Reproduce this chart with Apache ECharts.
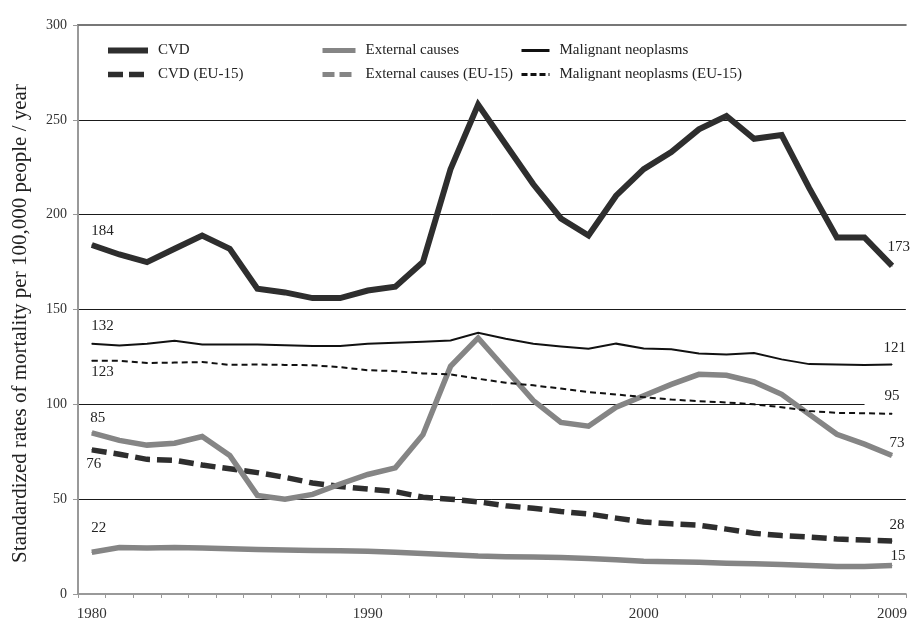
<!DOCTYPE html>
<html>
<head>
<meta charset="utf-8">
<script src="https://cdn.jsdelivr.net/npm/echarts@6/dist/echarts.min.js"></script>
<style>
  html, body { margin: 0; padding: 0; background: #fff; }
  #chart { width: 910px; height: 622px; }
</style>
</head>
<body>
<div id="chart"></div>
<script>
// Standardized mortality rates, 1980-2009 (per 100,000 people / year)
const years = ['1980','1981','1982','1983','1984','1985','1986','1987','1988','1989',
               '1990','1991','1992','1993','1994','1995','1996','1997','1998','1999',
               '2000','2001','2002','2003','2004','2005','2006','2007','2008','2009'];
const shownYears = ['1980', '1990', '2000', '2009'];

const cvd = [184, 179, 175, 182, 189, 182, 161, 159, 156, 156,
             160, 162, 175, 224, 258, 237, 216, 198, 189, 210,
             224, 233, 245, 252, 240, 242, 214, 188, 188, 173];
const cvdEU = [76, 73.7, 71, 70.5, 68, 66, 64, 61.5, 58.5, 56.7,
               55.3, 54, 51, 50, 48.6, 46.5, 45.2, 43.5, 42.2, 40,
               38, 37, 36.3, 34.2, 32, 30.8, 30, 29, 28.5, 28];
const ext = [85, 81, 78.5, 79.5, 83, 73, 52, 50, 52.5, 58,
             63, 66.5, 84, 120, 135, 118.5, 102, 90.5, 88.5, 98.5,
             104.5, 110.5, 115.8, 115.3, 111.8, 105.3, 94.7, 84.2, 79, 73];
const extEU = [22, 24.5, 24.2, 24.5, 24.2, 23.8, 23.5, 23.2, 22.9, 22.8,
               22.5, 22, 21.3, 20.7, 20, 19.7, 19.5, 19.2, 18.7, 18,
               17.3, 17, 16.7, 16.2, 16, 15.5, 15, 14.5, 14.5, 15];
const mal = [132, 131, 132, 133.5, 131.6, 131.5, 131.6, 131.2, 130.7, 130.7,
             131.9, 132.5, 133, 133.7, 137.7, 134.6, 132, 130.5, 129.3, 132,
             129.5, 129, 126.8, 126.3, 127, 123.7, 121.2, 121, 120.8, 121];
const malEU = [123, 123, 121.8, 122, 122.3, 120.8, 121, 120.8, 120.6, 119.6,
               118, 117.5, 116.3, 115.8, 113.5, 111.4, 110, 108.3, 106.5, 105.2,
               103.8, 102.5, 101.7, 101, 100, 98.5, 96.5, 95.5, 95.3, 95];

const FONT = 'Liberation Serif';
const DARK = '#2e2e2e';
const GREY = '#858585';
const BLACK = '#111111';

// Attach value labels to the first and last point of a series
function withEndLabels(values, startPos, endPos, extra) {
  return values.map((v, i) => {
    if (i !== 0 && i !== values.length - 1) return v;
    const pos = i === 0 ? startPos : endPos;
    const label = Object.assign({
      show: true,
      position: pos,
      align: 'left',
      verticalAlign: 'middle',
      formatter: String(v),
      fontFamily: FONT,
      fontSize: 15,
      color: '#222'
    }, (i !== 0 && extra) ? extra : {});
    return { value: v, symbol: 'circle', symbolSize: 1, label: label };
  });
}

function lineSeries(name, values, color, width, type, startPos, endPos, z, extra) {
  return {
    name: name,
    type: 'line',
    symbol: 'none',
    showSymbol: true,
    z: z,
    animation: false,
    itemStyle: { color: color },
    lineStyle: { color: color, width: width, type: type, cap: 'butt', join: 'miter' },
    emphasis: { disabled: true },
    data: withEndLabels(values, startPos, endPos, extra)
  };
}

const legendText = { fontFamily: FONT, fontSize: 15, color: '#222', padding: [0, 0, 0, 5] };
const legendBase = {
  orient: 'vertical', top: 38, itemHeight: 14, itemGap: 9,
  textStyle: legendText, selectedMode: false,
  itemStyle: { opacity: 0 },
  lineStyle: { width: 'inherit' }
};

const chart = echarts.init(document.getElementById('chart'), null, { renderer: 'canvas' });
chart.setOption({
  backgroundColor: '#ffffff',
  animation: false,
  textStyle: { fontFamily: FONT },
  grid: { left: 78, right: 2, top: 25, bottom: 27, containLabel: false },
  legend: [
    Object.assign({}, legendBase, {
      left: 100, itemWidth: 40,
      data: ['CVD', { name: 'CVD (EU-15)', lineStyle: { type: [15, 6], width: 5.5 } }]
    }),
    Object.assign({}, legendBase, {
      left: 315, itemWidth: 33,
      data: [{ name: 'External causes', lineStyle: { width: 5 } },
             { name: 'External causes (EU-15)', lineStyle: { type: [12, 5], width: 5 } }]
    }),
    Object.assign({}, legendBase, {
      left: 515, itemWidth: 28,
      data: [{ name: 'Malignant neoplasms', lineStyle: { width: 3 } },
             { name: 'Malignant neoplasms (EU-15)', lineStyle: { type: [6, 3], width: 3 } }]
    })
  ],
  xAxis: [
    {
      type: 'category',
      data: years,
      boundaryGap: true,
      axisLine: { show: true, lineStyle: { color: '#999', width: 2 } },
      axisTick: { show: true, interval: 0, length: 4, lineStyle: { color: '#999' } },
      axisLabel: {
        interval: (idx, val) => shownYears.indexOf(val) >= 0,
        margin: 13,
        fontFamily: FONT, fontSize: 15, color: '#333'
      },
      splitLine: { show: false }
    },
    {
      type: 'category',
      data: years,
      position: 'top',
      axisLine: { show: true, lineStyle: { color: '#777', width: 2 } },
      axisTick: { show: false },
      axisLabel: { show: false }
    }
  ],
  yAxis: {
    type: 'value',
    min: 0, max: 300, interval: 50,
    name: 'Standardized rates of mortality per 100,000 people / year',
    nameLocation: 'middle',
    nameGap: 47,
    nameTextStyle: { fontFamily: FONT, fontSize: 21, color: '#222', padding: [0, 28, 0, 0] },
    axisLine: { show: true, lineStyle: { color: '#999', width: 2 } },
    axisTick: { show: true, length: 5, lineStyle: { color: '#999' } },
    axisLabel: { margin: 11, fontFamily: FONT, fontSize: 14, color: '#333' },
    splitLine: { show: true, lineStyle: { color: '#1a1a1a', width: 1 } }
  },
  series: [
    lineSeries('External causes (EU-15)', extEU, GREY, 5.5, 'solid', [0, -24], [-1, -9], 2),
    lineSeries('CVD (EU-15)', cvdEU, DARK, 5.5, [15, 7], [-5, 15], [-2, -15], 3),
    lineSeries('External causes', ext, GREY, 5.5, 'solid', [-1, -14], [-2, -12], 4),
    lineSeries('CVD', cvd, DARK, 6, 'solid', [0, -13], [-4, -18], 5),
    lineSeries('Malignant neoplasms (EU-15)', malEU, BLACK, 2, [6, 4], [0, 12], [-27, -17], 6,
               { backgroundColor: '#ffffff', padding: [2, 8, 5, 20] }),
    lineSeries('Malignant neoplasms', mal, BLACK, 2, 'solid', [0, -17], [-8, -16], 7)
  ]
});
</script>
</body>
</html>
